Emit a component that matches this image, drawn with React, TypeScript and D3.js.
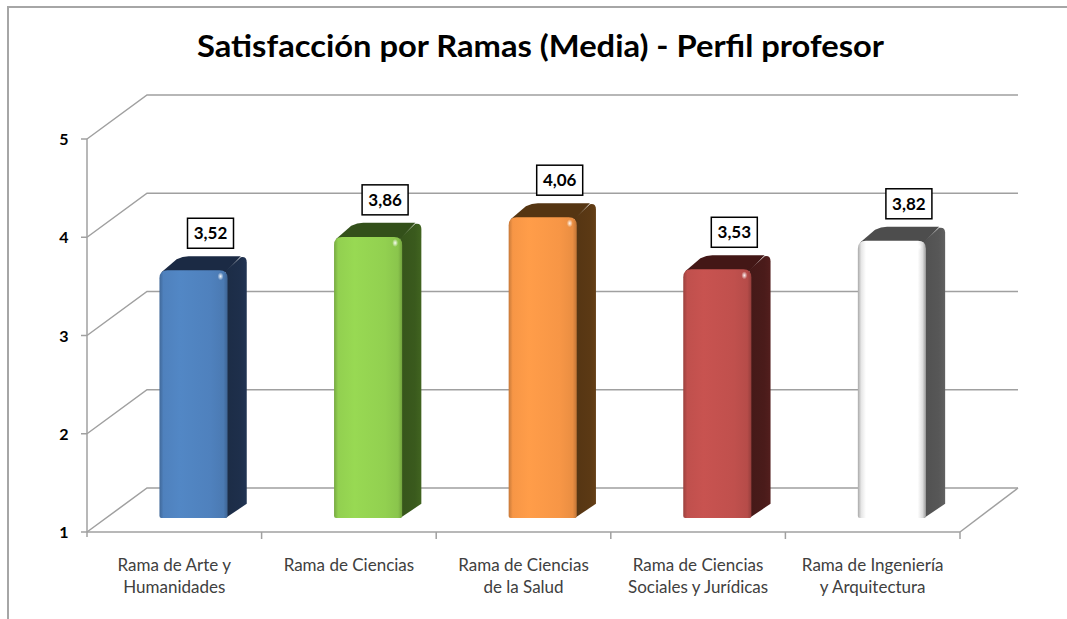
import React from "react";
import * as d3 from "d3";

const title = "Satisfacción por Ramas (Media) - Perfil profesor";
const categories: string[][] = [
  ["Rama de Arte y", "Humanidades"],
  ["Rama de Ciencias"],
  ["Rama de Ciencias", "de la Salud"],
  ["Rama de Ciencias", "Sociales y Jurídicas"],
  ["Rama de Ingeniería", "y Arquitectura"],
];
const values = [3.52, 3.86, 4.06, 3.53, 3.82];
const valueLabels = ["3,52", "3,86", "4,06", "3,53", "3,82"];
const yTicks = [1, 2, 3, 4, 5];
const frontColors = ["#4F81BD", "#92D050", "#F79646", "#C0504D", "#FFFFFF"];
const sideColors = ["#1E2F4B", "#3A5A1D", "#5B3914", "#4A1B1A", "#575757"];
const topColors = ["#1B2A44", "#33501A", "#553512", "#431716", "#4D4D4D"];

const W = 1067;
const H = 619;
const FX0 = 87;
const FX1 = 960;
const DX = 60; // back wall offset
const DY = 44;
const D0 = 0.32; // bar front depth fraction
const D1 = 0.64; // bar back depth fraction
const BAR_FRAC = 0.39;

export default function App() {
  const x = d3.scaleBand<number>().domain(d3.range(values.length)).range([FX0, FX1]).padding(0);
  const y = d3.scaleLinear().domain([1, 5]).range([532, 139]);
  const bw = x.bandwidth() * BAR_FRAC;
  const fdx = DX * D0, fdy = DY * D0;
  const bdx = DX * (D1 - D0), bdy = DY * (D1 - D0);

  const grad = (i: number) => {
    const c = d3.color(frontColors[i])!;
    if (frontColors[i].toUpperCase() === "#FFFFFF") {
      return [
        ["0", "#a8a8a8"], ["0.05", "#e6e6e6"], ["0.12", "#ffffff"], ["0.88", "#ffffff"], ["0.95", "#dddddd"], ["1", "#9a9a9a"],
      ];
    }
    return [
      ["0", c.darker(0.6).formatHex()],
      ["0.06", c.formatHex()],
      ["0.3", c.brighter(0.12).formatHex()],
      ["0.75", c.formatHex()],
      ["0.94", c.darker(0.15).formatHex()],
      ["1", c.darker(0.7).formatHex()],
    ];
  };

  return (
    <div style={{ position: "absolute", left: 0, top: 0 }}>
      <svg width={W} height={H} style={{ display: "block", fontFamily: "Lato, 'Open Sans', sans-serif" }}>
        <defs>
          {values.map((_, i) => (
            <linearGradient key={i} id={`fg${i}`} x1="0" x2="1" y1="0" y2="0">
              {grad(i).map(([o, c]) => (
                <stop key={o} offset={o} stopColor={c} />
              ))}
            </linearGradient>
          ))}
          {values.map((_, i) => (
            <linearGradient key={"s" + i} id={`sg${i}`} x1="0" x2="1" y1="0" y2="0">
              <stop offset="0" stopColor={d3.color(sideColors[i])!.darker(0.2).formatHex()} />
              <stop offset="0.7" stopColor={sideColors[i]} />
              <stop offset="1" stopColor={d3.color(sideColors[i])!.brighter(0.3).formatHex()} />
            </linearGradient>
          ))}
          <radialGradient id="hl">
            <stop offset="0" stopColor="#ffffff" stopOpacity="0.95" />
            <stop offset="1" stopColor="#ffffff" stopOpacity="0" />
          </radialGradient>
        </defs>
        <rect x={0} y={0} width={W} height={H} fill="#ffffff" />
        <path d={`M8,${H} V7 H${W}`} fill="none" stroke="#a6a6a6" strokeWidth={2} />

        <text x={(197 + 884) / 2} y={57} textAnchor="middle" fontSize={30} fontWeight="bold" fill="#000"
          textLength={687} lengthAdjust="spacingAndGlyphs">
          {title}
        </text>

        {/* back wall gridlines */}
        {yTicks.map((t) => (
          <path key={t}
            d={`M${FX0},${y(t)} L${FX0 + DX},${y(t) - DY} H${FX1 + DX - 2}`}
            fill="none" stroke="#a0a0a0" strokeWidth={1.5} />
        ))}
        <path d={`M${FX1 + DX - 2},${y(1) - DY} L${FX1},${y(1)}`} fill="none" stroke="#a0a0a0" strokeWidth={1.5} />
        {/* front axis */}
        <line x1={FX0} x2={FX0} y1={y(5)} y2={y(1) + 5} stroke="#a0a0a0" strokeWidth={1.5} />
        <line x1={FX0} x2={FX1} y1={y(1)} y2={y(1)} stroke="#a0a0a0" strokeWidth={1.5} />
        {yTicks.map((t) => (
          <g key={t}>
            <line x1={FX0 - 6} x2={FX0} y1={y(t)} y2={y(t)} stroke="#a0a0a0" strokeWidth={1.5} />
            <text x={64} y={y(t) + 6} textAnchor="middle" fontSize={16} fontWeight="bold" fill="#000">{t}</text>
          </g>
        ))}
        {values.map((_, i) => (
          <line key={i} x1={(x(i) as number) + x.bandwidth()} x2={(x(i) as number) + x.bandwidth()}
            y1={y(1)} y2={y(1) + 7} stroke="#a0a0a0" strokeWidth={1.5} />
        ))}

        {/* bars */}
        {values.map((v, i) => {
          const cx = (x(i) as number) + x.bandwidth() / 2 + fdx;
          const a = cx - bw / 2;
          const b = cx + bw / 2;
          const t = y(v) - fdy;
          const bt = y(1) - fdy;
          const r = 8;
          const front = `M${a},${bt - 2} V${t + r} Q${a},${t} ${a + r},${t} H${b - r} Q${b},${t} ${b},${t + r} V${bt - 2} Q${b},${bt} ${b - 2},${bt} H${a + 2} Q${a},${bt} ${a},${bt - 2} Z`;
          const side = `M${b - 2},${t + 1} L${b + bdx - 6},${t - bdy + 1} Q${b + bdx},${t - bdy} ${b + bdx},${t - bdy + 6} V${bt - bdy} L${b - 2},${bt} Z`;
          const top = `M${a + 2},${t + 2} L${a + bdx - 2},${t - bdy + 3} Q${a + bdx + 4},${t - bdy} ${a + bdx + 10},${t - bdy} H${b + bdx - 6} L${b - 2},${t + 2} Z`;
          return (
            <g key={i}>
              <path d={side} fill={`url(#sg${i})`} />
              <path d={top} fill={topColors[i]} />
              <path d={front} fill={`url(#fg${i})`} />
              <ellipse cx={b - 7} cy={t + 6} rx={3} ry={4} fill="url(#hl)" />
            </g>
          );
        })}

        {/* value labels */}
        {values.map((v, i) => {
          const cx = (x(i) as number) + x.bandwidth() / 2 + fdx + 17;
          const bottom = y(v) - fdy - bdy - 8;
          const bh = 30, bwid = 46;
          return (
            <g key={i}>
              <rect x={cx - bwid / 2} y={bottom - bh} width={bwid} height={bh} fill="#fff" stroke="#000" strokeWidth={1.5} />
              <text x={cx} y={bottom - bh / 2 + 6} textAnchor="middle" fontSize={17} fontWeight="bold" fill="#000">
                {valueLabels[i]}
              </text>
            </g>
          );
        })}

        {/* category labels */}
        {categories.map((lines, i) => (
          <text key={i} x={(x(i) as number) + x.bandwidth() / 2} textAnchor="middle" fontSize={17} fill="#404040">
            {lines.map((l, j) => (
              <tspan key={j} x={(x(i) as number) + x.bandwidth() / 2} y={571 + j * 22}>{l}</tspan>
            ))}
          </text>
        ))}
      </svg>
    </div>
  );
}
